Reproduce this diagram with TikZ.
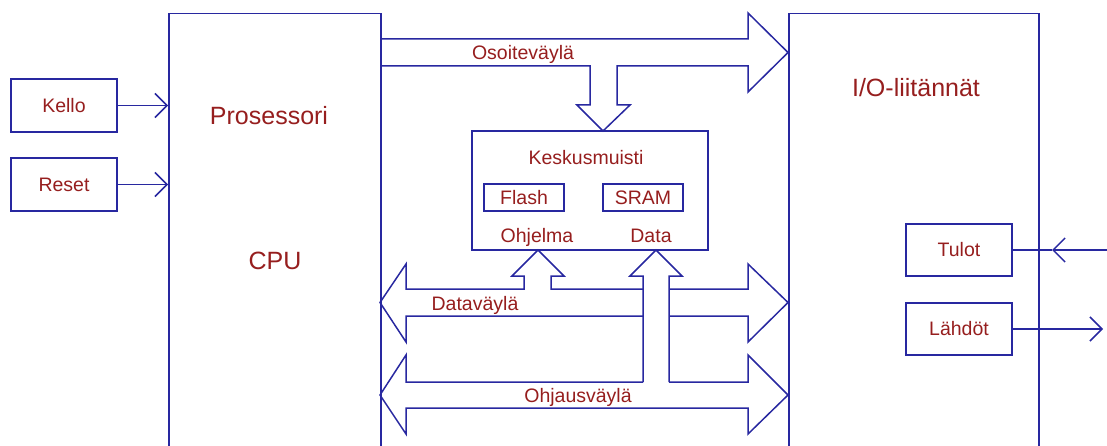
\documentclass[tikz,border=0pt]{standalone}
\usepackage{fontspec}
\setmainfont{Liberation Sans}
\usetikzlibrary{arrows.meta, positioning}
\definecolor{busblue}{RGB}{40,40,160}
\definecolor{labelred}{RGB}{150,30,30}
\tikzset{
  unit/.style={draw=busblue, line width=1.5pt, inner sep=0pt, text=labelred, font=\fontsize{19.5}{22}\selectfont},
  lbl/.style={anchor=base, inner sep=0pt, text=labelred, font=\fontsize{19.5}{22}\selectfont},
  biglbl/.style={anchor=base, inner sep=0pt, text=labelred, font=\fontsize{25}{28}\selectfont},
  barb/.style={-{Straight Barb[length=12pt, width=24pt]}}
}
\begin{document}
\begin{tikzpicture}[x=1pt, y=-1pt, line width=1.5pt, draw=busblue]
  \useasboundingbox (0,0) rectangle (1107,446);
  \node[unit, minimum width=212pt, minimum height=480pt, anchor=north west](cpu) at (168,13){};
  \node[unit, minimum width=250pt, minimum height=480pt, anchor=north west](io) at (788,13){};
  \node[biglbl](prosessori) at (269,125){Prosessori};
  \node[biglbl](cpulbl) at (275,269){CPU};
  \node[biglbl](iolbl) at (916,97){I/O-liitännät};
  \node[unit, minimum width=106pt, minimum height=53pt](kello) at (64,105.5){Kello};
  \node[unit, minimum width=106pt, minimum height=53pt](reset) at (64,184.5){Reset};
  \draw[barb] (kello) -- (kello -| cpu.west);
  \draw[barb] (reset) -- (reset -| cpu.west);
  \node[unit, minimum width=236pt, minimum height=119pt](muisti) at (590,190.5){};
  \node[lbl](keskus) at (586,165){Keskusmuisti};
  \node[unit, minimum width=80pt, minimum height=27pt](flash) at (524,197.5){Flash};
  \node[unit, minimum width=80pt, minimum height=27pt](sram) at (643,197.5){SRAM};
  \node[lbl](ohjelma) at (537,243){Ohjelma};
  \node[lbl](data) at (651,243){Data};
  \node[unit, minimum width=106pt, minimum height=52pt](tulot) at (959,250){Tulot};
  \node[unit, minimum width=106pt, minimum height=52pt](lahdot) at (959,329){Lähdöt};
  \coordinate (tulin) at (1107,250);
  \coordinate (tultip) at (1052,250);
  \coordinate (lahout) at (1103,329);
  \draw[barb] (tulin) -- (tultip);
  \draw (tultip) -- (tulot);
  \draw[barb] (lahdot) -- (lahout);
  \draw (380,39) -- (748,39) -- (748,13) -- (788,52.5) -- (748,92) -- (748,66) -- (617,66) -- (617,105) -- (630,105)
        -- (603,131) -- (577,105) -- (590,105) -- (590,66) -- (380,66);
  \node[lbl](osoite) at (523,60){Osoiteväylä};
  \draw (643,289) -- (551,289) -- (551,276) -- (564,276) -- (538,250) -- (512,276) -- (524,276) -- (524,289) -- (406,289)
        -- (406,264) -- (380,302.5) -- (406,342) -- (406,316) -- (643,316);
  \draw (669,289) -- (748,289) -- (748,264) -- (788,302.5) -- (748,342) -- (748,316) -- (669,316);
  \draw (643,382) -- (643,276) -- (630,276) -- (656,250) -- (682,276) -- (669,276) -- (669,382);
  \node[lbl](datav) at (475,310){Dataväylä};
  \draw (643,382) -- (406,382) -- (406,355) -- (380,395) -- (406,434) -- (406,408) -- (748,408) -- (748,434) -- (788,395)
        -- (748,355) -- (748,382) -- (669,382);
  \node[lbl](ohjaus) at (578,402){Ohjausväylä};
\end{tikzpicture}
\end{document}
